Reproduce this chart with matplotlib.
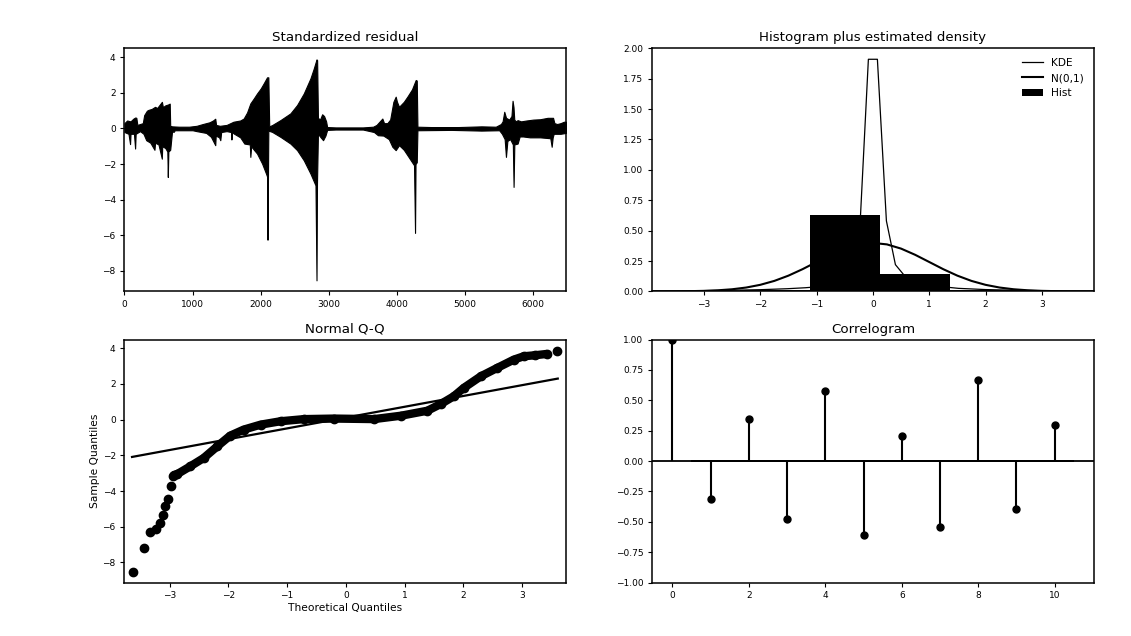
import matplotlib
matplotlib.use("Agg")
import matplotlib.pyplot as plt

# standardized residual, read as upper / lower envelope of the dense trace
res_up_x = [0, 40, 90, 130, 160, 175, 190, 230, 270, 290, 330, 355, 400, 450, 480, 510, 550, 565, 600, 640, 665, 672,
            700, 800, 950, 1060, 1150, 1250, 1300, 1333, 1345, 1400, 1500, 1600, 1700, 1750, 1800, 1848, 1900, 1946,
            2000, 2044, 2093, 2112, 2125, 2167, 2289, 2436, 2534, 2632, 2730, 2779, 2819, 2828, 2840, 2870, 2902,
            2930, 2960, 2975, 3100, 3500, 3650, 3700, 3785, 3810, 3858, 3900, 3947, 3981, 4000, 4030, 4100, 4152,
            4220, 4275, 4290, 4300, 4500, 4900, 5240, 5450, 5525, 5550, 5574, 5600, 5647, 5680, 5696, 5710, 5721,
            5745, 5770, 5820, 5900, 6000, 6100, 6210, 6290, 6310, 6350, 6400, 6450, 6480]
res_up_y = [0.3, 0.45, 0.4, 0.55, 0.62, 0.6, 0.2, 0.25, 0.3, 0.75, 1.0, 1.05, 1.1, 1.22, 1.15, 1.3, 1.5, 1.2, 1.3, 1.35,
            1.4, 0.15, 0.12, 0.1, 0.1, 0.15, 0.25, 0.35, 0.45, 0.55, 0.2, 0.15, 0.2, 0.38, 0.45, 0.56, 0.9, 1.41, 1.7,
            1.97, 2.25, 2.54, 2.88, 2.88, 0.12, 0.19, 0.47, 0.85, 1.32, 1.97, 2.82, 3.38, 3.89, 3.85, 0.6, 0.5, 0.8,
            0.7, 0.4, 0.08, 0.06, 0.06, 0.1, 0.2, 0.56, 0.3, 0.3, 0.5, 1.5, 1.79, 1.5, 1.22, 1.5, 1.79, 2.2, 2.73,
            2.7, 0.1, 0.08, 0.08, 0.12, 0.1, 0.25, 0.4, 0.94, 0.6, 0.5, 0.7, 1.56, 1.2, 0.5, 0.4, 0.47, 0.4, 0.45,
            0.5, 0.52, 0.6, 0.6, 0.3, 0.25, 0.3, 0.38, 0.38]

res_lo_x = [0, 60, 83, 90, 140, 157, 165, 230, 280, 320, 380, 441, 450, 500, 549, 555, 600, 630, 637, 645, 672, 700,
            720, 740, 800, 1000, 1060, 1200, 1270, 1333, 1340, 1390, 1407, 1420, 1500, 1565, 1570, 1580, 1603, 1700,
            1760, 1840, 1848, 1860, 1900, 1946, 2020, 2078, 2093, 2100, 2112, 2167, 2289, 2436, 2534, 2632, 2730,
            2804, 2819, 2826, 2840, 2880, 2915, 2950, 2975, 3100, 3500, 3662, 3720, 3800, 3880, 3932, 3981, 4030,
            4100, 4152, 4250, 4265, 4272, 4290, 4300, 4800, 5240, 5500, 5540, 5580, 5599, 5620, 5660, 5700, 5711,
            5722, 5770, 5800, 5850, 5950, 6100, 6250, 6270, 6285, 6300, 6400, 6480]
res_lo_y = [-0.2, -0.3, -0.88, -0.3, -0.3, -1.13, -0.3, -0.15, -0.3, -0.66, -0.8, -1.2, -0.8, -0.9, -1.7, -1.0, -1.1,
            -1.3, -2.73, -1.3, -1.2, -0.12, -0.2, -0.1, -0.1, -0.1, -0.15, -0.25, -0.47, -0.94, -0.4, -0.5, -0.66,
            -0.2, -0.15, -0.2, -0.62, -0.2, -0.28, -0.5, -0.85, -0.9, -1.6, -1.0, -1.2, -1.41, -1.97, -2.54, -2.7,
            -6.26, -0.12, -0.19, -0.47, -0.85, -1.22, -1.79, -2.54, -3.2, -8.55, -3.1, -0.3, -0.5, -0.66, -0.4,
            -0.08, -0.06, -0.06, -0.2, -0.38, -0.4, -0.6, -1.03, -1.22, -0.94, -1.2, -1.5, -2.07, -5.88, -2.0,
            -1.9, -0.1, -0.08, -0.12, -0.1, -0.3, -0.6, -1.6, -0.7, -0.6, -0.9, -3.29, -0.9, -0.85, -0.45, -0.45,
            -0.5, -0.5, -0.55, -1.03, -0.5, -0.3, -0.3, -0.25]

# histogram + densities
hist_left = [-8.59, -7.345, -6.10, -4.855, -3.61, -2.365, -1.11, 0.125, 1.37, 2.615]
hist_width = 1.245
hist_dens = [0.0002, 0.0002, 0.0005, 0.0008, 0.004, 0.012, 0.625, 0.143, 0.012, 0.004]

kde_x = [-3.92, -3.28, -2.64, -2.0, -1.52, -1.2, -1.04, -0.88, -0.72, -0.56, -0.40, -0.24, -0.08,
         0.08, 0.24, 0.40, 0.56, 0.72, 0.88, 1.04, 1.2, 1.52, 2.0, 2.64, 3.28, 3.92]
kde_y = [0.003, 0.005, 0.008, 0.014, 0.022, 0.03, 0.036, 0.045, 0.06, 0.08, 0.15, 0.44, 1.91,
         1.91, 0.58, 0.22, 0.13, 0.10, 0.075, 0.055, 0.04, 0.025, 0.015, 0.008, 0.004, 0.002]

norm_x = [-3.92, -3.5, -3.25, -3.0, -2.75, -2.5, -2.25, -2.0, -1.75, -1.5, -1.25, -1.0, -0.75, -0.5, -0.25, 0.0,
          0.25, 0.5, 0.75, 1.0, 1.25, 1.5, 1.75, 2.0, 2.25, 2.5, 2.75, 3.0, 3.25, 3.5, 3.92]
norm_y = [0.0002, 0.0009, 0.002, 0.0044, 0.0091, 0.0175, 0.0317, 0.054, 0.0863, 0.1295, 0.1826, 0.242, 0.3011,
          0.3521, 0.3867, 0.3989, 0.3867, 0.3521, 0.3011, 0.242, 0.1826, 0.1295, 0.0863, 0.054, 0.0317, 0.0175,
          0.0091, 0.0044, 0.002, 0.0009, 0.0002]

# normal Q-Q
qq_tail_x = [-3.62, -3.44, -3.33, -3.24, -3.17, -3.11, -3.085, -3.03, -2.97, -2.95]
qq_tail_y = [-8.51, -7.2, -6.30, -6.13, -5.80, -5.33, -4.86, -4.45, -3.74, -3.18]
qq_body_x = [-2.92, -2.87, -2.65, -2.42, -2.19, -1.97, -1.74, -1.45, -1.11, -0.71, -0.2, 0.48, 0.94, 1.39,
             1.62, 1.84, 2.01, 2.3, 2.58, 2.86, 3.03, 3.23, 3.42]
qq_body_y = [-3.12, -3.05, -2.62, -2.15, -1.5, -0.9, -0.56, -0.28, -0.09, 0.03, 0.06, 0.03, 0.22, 0.5,
             0.88, 1.31, 1.78, 2.43, 2.9, 3.36, 3.55, 3.61, 3.68]
qq_last_x = [3.60]
qq_last_y = [3.87]
qq_line_x = [-3.64, 3.61]
qq_line_y = [-2.09, 2.30]

# correlogram
lags = [0, 1, 2, 3, 4, 5, 6, 7, 8, 9, 10]
acf = [1.0, -0.31, 0.35, -0.475, 0.58, -0.61, 0.21, -0.545, 0.665, -0.395, 0.30]
conf_lags = [0.5, 10.5]
conf = 0.008

plt.rcParams["font.family"] = "DejaVu Sans"
plt.rcParams["xtick.labelsize"] = 6.5
plt.rcParams["ytick.labelsize"] = 6.5
plt.rcParams["xtick.major.size"] = 2.8
plt.rcParams["ytick.major.size"] = 2.8
plt.rcParams["axes.linewidth"] = 1.1
plt.rcParams["axes.titlesize"] = 9.6
plt.rcParams["axes.titlepad"] = 5

fig, axes = plt.subplots(2, 2, figsize=(11.31, 6.36), dpi=100)
fig.subplots_adjust(left=0.110, right=0.967, top=0.924, bottom=0.084, wspace=0.195, hspace=0.198)

# top left
ax = axes[0, 0]
ax.fill_between(res_up_x, 0, res_up_y, color="black", lw=0.8)
ax.fill_between(res_lo_x, res_lo_y, 0, color="black", lw=0.8)
ax.set_xlim(0, 6480)
ax.set_title("Standardized residual")

# top right
ax = axes[0, 1]
ax.bar(hist_left, hist_dens, width=hist_width, align="edge", color="black", lw=0, label="Hist")
ax.plot(kde_x, kde_y, color="black", lw=0.9, label="KDE")
ax.plot(norm_x, norm_y, color="black", lw=1.5, label="N(0,1)")
ax.set_xlim(-3.92, 3.92)
ax.set_ylim(0, 2.0)
ax.legend(frameon=False, fontsize=7.6, loc="upper right")
ax.set_title("Histogram plus estimated density")

# bottom left
ax = axes[1, 0]
ax.plot(qq_body_x, qq_body_y, color="black", lw=6, solid_capstyle="round")
ax.plot(qq_tail_x + qq_body_x + qq_last_x, qq_tail_y + qq_body_y + qq_last_y, "o", color="black", ms=6)
ax.plot(qq_line_x, qq_line_y, color="black", lw=1.6)
ax.set_xlim(-3.77, 3.75)
ax.set_xlabel("Theoretical Quantiles", fontsize=7.7, labelpad=2)
ax.set_ylabel("Sample Quantiles", fontsize=7.7, labelpad=2)
ax.set_title("Normal Q-Q")

# bottom right
ax = axes[1, 1]
ax.axhline(0, color="black", lw=1.3)
ax.fill_between(conf_lags, -conf, conf, color="black", lw=0)
ax.vlines(lags, 0, acf, color="black", lw=1.5)
ax.plot(lags, acf, "o", color="black", ms=5)
ax.set_xlim(-0.53, 11.02)
ax.set_ylim(-1, 1)
ax.set_title("Correlogram")

fig.savefig("out.png", dpi=100)
